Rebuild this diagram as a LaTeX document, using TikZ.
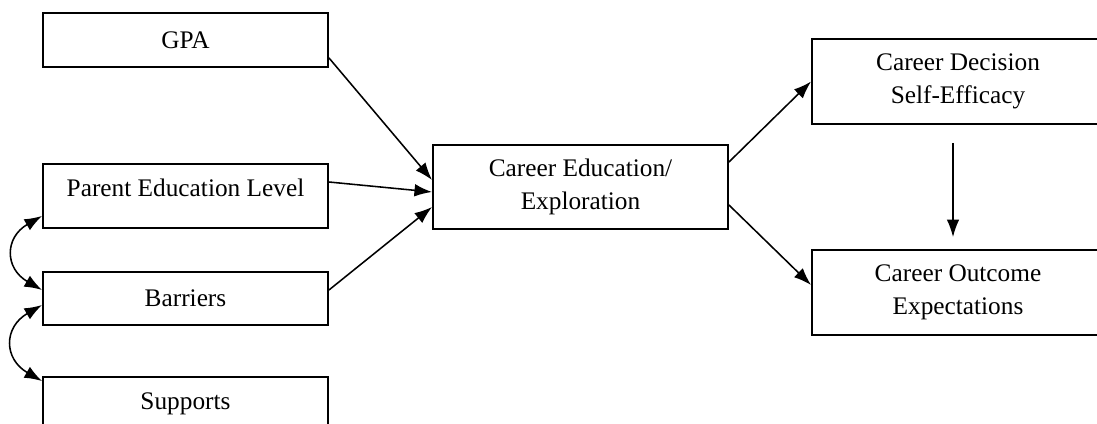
\documentclass[tikz,border=0pt]{standalone}
\usepackage{fontspec}
\setmainfont{Liberation Serif}
\usetikzlibrary{calc,arrows.meta}

\begin{document}
\begin{tikzpicture}[x=0.025cm,y=0.025cm,
	box/.style={draw,line width=1.3pt,align=center,inner sep=0pt,font=\fontsize{18}{23.5}\selectfont},
	link/.style={->,line width=1.1pt},
	>={Latex[length=12.5pt,width=9pt]}]
			          %\draw[help lines] (0,0) grid[step=50] (1097,423);
			          \useasboundingbox (0,0) rectangle (1097,423);
			          % left column
			          \node[box,minimum width=7.125cm,minimum height=1.35cm] (gpa) at (185.5,383) {GPA};
			          \node[box,minimum width=7.125cm,minimum height=1.6cm,text depth=12pt] (parent) at (185.5,227) {Parent Education Level};
			          \node[box,minimum width=7.125cm,minimum height=1.325cm] (barriers) at (185.5,124.5) {Barriers};
			          \node[box,minimum width=7.125cm,minimum height=1.35cm] (supports) at (185.5,19) {Supports};
			          % middle and right
			          \node[box,minimum width=7.375cm,minimum height=2.1cm] (career) at (580.5,236) {Career Education/\\Exploration};
			          \node[box,minimum width=7.3cm,minimum height=2.125cm] (efficacy) at (958,341.5) {Career Decision\\Self-Efficacy};
			          \node[box,minimum width=7.3cm,minimum height=2.125cm] (outcome) at (958,130.5) {Career Outcome\\Expectations};
			          % paths into career
			          \draw[link] ($(gpa.south east)+(0,10)$) -- ($(career.west)+(0,7)$);
			          \draw[link] ($(parent.east)+(0,14)$) -- ($(career.west)+(0,-5)$);
			          \draw[link] ($(barriers.east)+(0,8.5)$) -- ($(career.west)+(0,-20)$);
			          % paths out of career
			          \draw[link] ($(career.east)+(0,25)$) -- (efficacy.west);
			          \draw[link] ($(career.east)+(0,-18)$) -- ($(outcome.west)+(0,7.5)$);
			          \draw[link] ($(efficacy.south)+(-5,-18)$) -- ($(outcome.north)+(-5,12)$);
			          % correlations
			          \draw[<->,line width=1.1pt] ($(parent.south west)+(0,13)$) to[out=210,in=150,looseness=1.5] ($(barriers.west)+(0,8.5)$);
			          \draw[<->,line width=1.1pt] ($(barriers.west)+(0,-6.5)$) to[out=210,in=150,looseness=1.5] ($(supports.north west)+(0,-5)$);
				  \end{tikzpicture}
\end{document}
